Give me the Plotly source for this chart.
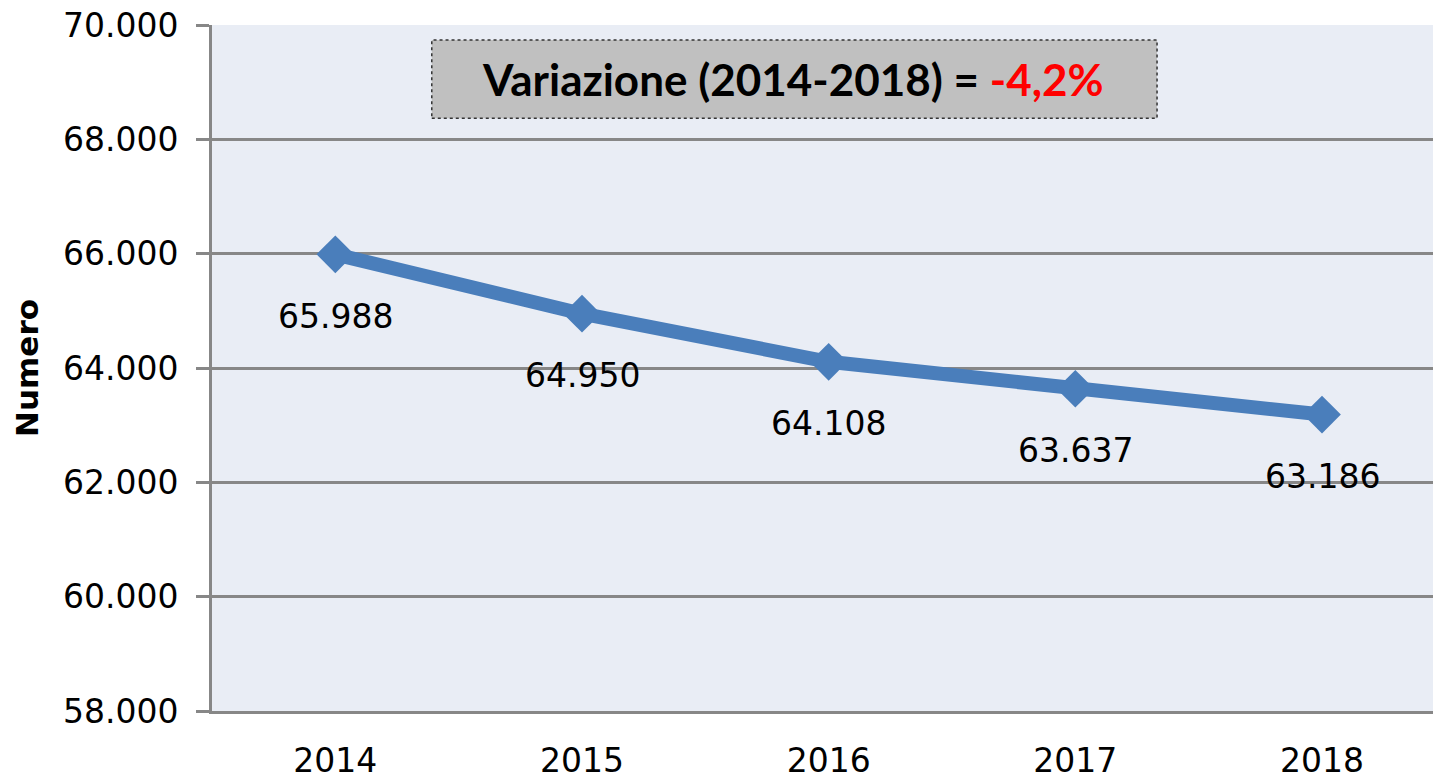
import plotly.graph_objects as go

years = ["2014", "2015", "2016", "2017", "2018"]
values = [65988, 64950, 64108, 63637, 63186]
y_ticks = [58000, 60000, 62000, 64000, 66000, 68000, 70000]
y_title = "Numero"


def it_fmt(v):
    return f"{v:,}".replace(",", ".")


variation = (values[-1] - values[0]) / values[0] * 100
var_text = f"{variation:.1f}%".replace(".", ",")

BLUE = "#4A7EBB"
GRID = "#878787"
FONT = "DejaVu Sans"

fig = go.Figure()
fig.add_trace(go.Scatter(
    x=years, y=values, mode="lines+markers",
    line=dict(color=BLUE, width=14),
    marker=dict(symbol="diamond", size=29, color=BLUE, line=dict(width=0)),
    hoverinfo="skip", showlegend=False,
))

# data labels below each point (category index positions)
for i, v in enumerate(values):
    fig.add_annotation(x=i, y=v, xref="x", yref="y", text=it_fmt(v), showarrow=False,
                       yshift=-62, xanchor="center", yanchor="middle",
                       font=dict(family=FONT, size=33, color="black"))

# title box
fig.add_shape(type="rect", xref="paper", yref="paper",
              x0=0.180, x1=0.774, y0=0.864, y1=0.978,
              fillcolor="#C0C0C0", line=dict(color="#333333", width=1.5, dash="dot"),
              layer="above")
fig.add_annotation(xref="paper", yref="paper", x=0.476, y=0.921,
                   xanchor="center", yanchor="middle", showarrow=False,
                   text=f"<b>Variazione ({years[0]}-{years[-1]}) = <span style='color:#FF0000'>{var_text}</span></b>",
                   font=dict(family="Lato", size=44, color="black"))

fig.update_layout(
    width=1433, height=779,
    margin=dict(l=212, r=0, t=25, b=68, autoexpand=False),
    paper_bgcolor="white",
    plot_bgcolor="#E9EDF5",
    separators=",.",
    font=dict(family=FONT, size=33, color="black"),
    xaxis=dict(
        type="category", range=[-0.5, 4.45], automargin=False,
        showline=True, linecolor=GRID, linewidth=3,
        showgrid=False, zeroline=False,
        ticks="outside", ticklen=18, tickcolor="rgba(0,0,0,0)",
        tickfont=dict(family=FONT, size=33, color="black"),
    ),
    yaxis=dict(
        range=[58000, 70000], tickvals=y_ticks, automargin=False,
        tickformat=",d",
        showline=True, linecolor=GRID, linewidth=3,
        showgrid=True, gridcolor=GRID, gridwidth=3,
        zeroline=False,
        ticks="outside", ticklen=13, tickwidth=3, tickcolor=GRID,
        ticklabelstandoff=11,
        tickfont=dict(family=FONT, size=33, color="black"),
        title=dict(text=y_title, standoff=16,
                   font=dict(family=FONT, size=31, color="black", weight="bold")),
    ),
)

fig.write_html("out.html", config={"displayModeBar": False},
               post_script="document.body.style.margin='0';document.body.style.overflow='hidden';")
